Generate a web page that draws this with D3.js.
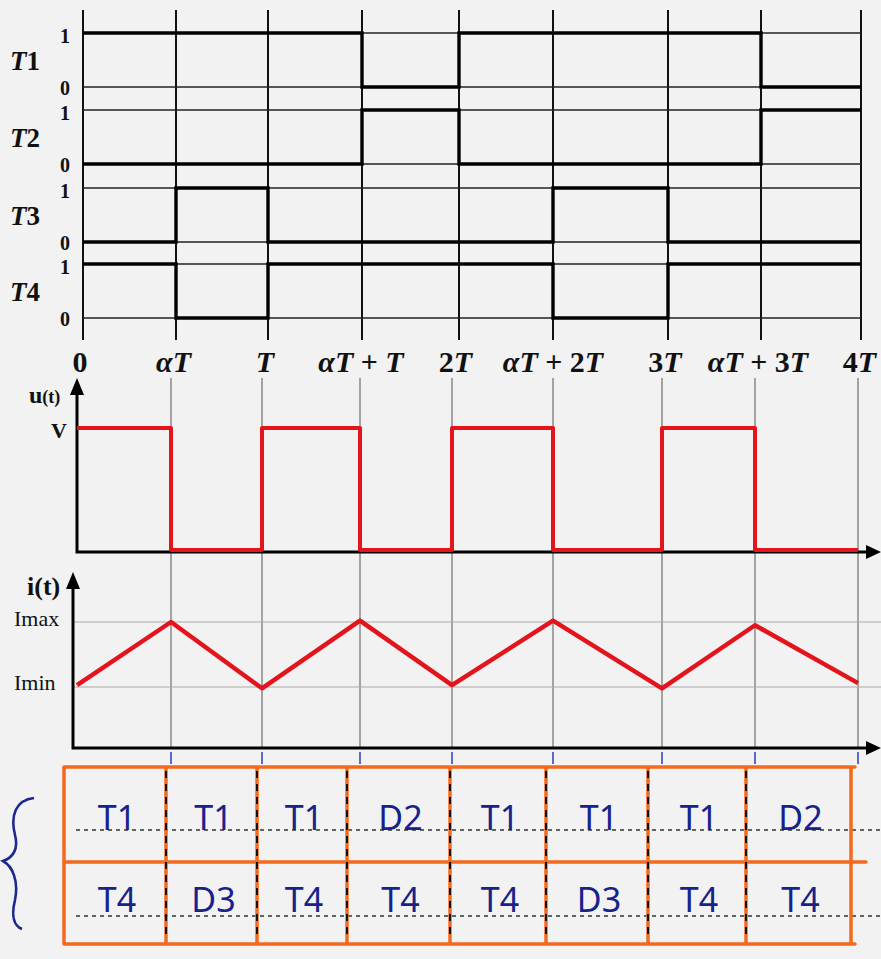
<!DOCTYPE html>
<html lang="en">
<head>
<meta charset="UTF-8">
<title>Chronogrammes du hacheur 4 quadrants</title>
<script src="https://d3js.org/d3.v7.min.js"></script>
<style>
  body { margin: 0; background: #f2f2f2; }
  svg { display: block; }
  .serif { font-family: "Liberation Serif", "DejaVu Serif", serif; font-weight: bold; fill: #111; }
  .serif.light { font-weight: normal; }
  .hand { font-family: "Noto Sans", "DejaVu Sans", sans-serif; fill: #17228a; }
</style>
</head>
<body>
<svg width="881" height="959"></svg>
<script>
// --- data ---
var alpha = 0.48;
var tickTimes = [0, alpha, 1, 1 + alpha, 2, 2 + alpha, 3, 3 + alpha, 4];
var tickLabels = ["0", "αT", "T", "αT + T", "2T", "αT + 2T", "3T", "αT + 3T", "4T"];

var switchNames = ["1", "2", "3", "4"];          // T1..T4
var t1 = [1, 1, 1, 0, 1, 1, 1, 0];               // level on each interval
var t2 = [0, 0, 0, 1, 0, 0, 0, 1];
var t3 = [0, 1, 0, 0, 0, 1, 0, 0];
var t4 = [1, 0, 1, 1, 1, 0, 1, 1];
var switchLevels = [t1, t2, t3, t4];

var uLevels = [1, 0, 1, 0, 1, 0, 1, 0];          // u(t): V or 0
var iValues = [0.03, 1, -0.02, 1.02, 0.03, 1.02, -0.02, 0.95, 0.06]; // i(t) at each tick, Imin=0 Imax=1

var row1Labels = ["T1", "T1", "T1", "D2", "T1", "T1", "T1", "D2"];
var row2Labels = ["T4", "D3", "T4", "T4", "T4", "D3", "T4", "T4"];

// --- layout ---
var svg = d3.select("svg");

var topX = d3.scaleLinear().domain(tickTimes).range([83, 176, 268, 362, 459, 553, 668, 761, 861]);
var lowX = d3.scaleLinear().domain(tickTimes).range([77, 171, 262, 360, 452, 553, 662, 755, 858]);
var tabX = d3.scaleLinear().domain(tickTimes).range([64, 166, 257, 347, 450, 546, 648, 746, 851]);

var rowTop = [33, 110, 188, 264], rowH = 54;

// step path helper: levels per interval -> points
function stepPoints(levels) {
  var pts = [];
  levels.forEach(function(v, i) {
    pts.push([tickTimes[i], v]);
    pts.push([tickTimes[i + 1], v]);
  });
  return pts;
}

// ===== top panel : T1..T4 =====
var gTop = svg.append("g");

gTop.selectAll(".vgrid")
  .data(tickTimes)
  .enter().append("line")
  .attr("x1", function(d) { return topX(d); })
  .attr("x2", function(d) { return topX(d); })
  .attr("y1", 10).attr("y2", 340)
  .attr("stroke", "#111").attr("stroke-width", 2);

switchLevels.forEach(function(levels, k) {
  var y = d3.scaleLinear().domain([0, 1]).range([rowTop[k] + rowH, rowTop[k]]);

  [0, 1].forEach(function(lv) {
    gTop.append("line")
      .attr("x1", topX(0)).attr("x2", topX(4))
      .attr("y1", y(lv)).attr("y2", y(lv))
      .attr("stroke", "#222").attr("stroke-width", 1.6);
    gTop.append("text")
      .attr("class", "serif")
      .attr("x", 60).attr("y", y(lv) + (lv ? 10 : 8))
      .attr("font-size", 20)
      .text(lv);
  });

  gTop.append("path")
    .datum(stepPoints(levels))
    .attr("fill", "none")
    .attr("stroke", "#000")
    .attr("stroke-width", 3.4)
    .attr("d", d3.line().x(function(d) { return topX(d[0]); }).y(function(d) { return y(d[1]); }));

  var lab = gTop.append("text")
    .attr("class", "serif")
    .attr("x", 10).attr("y", (y(0) + y(1)) / 2 + 10)
    .attr("font-size", 27);
  lab.append("tspan").attr("font-style", "italic").text("T");
  lab.append("tspan").text(switchNames[k]);
});

// tick labels with italic α and T
svg.append("g").selectAll("text")
  .data(tickTimes)
  .enter().append("text")
  .attr("class", "serif")
  .attr("x", function(d) { return (topX(d) + lowX(d)) / 2; })
  .attr("y", 372)
  .attr("text-anchor", "middle")
  .attr("font-size", 30)
  .each(function(d, i) {
    var t = d3.select(this);
    tickLabels[i].split("").forEach(function(ch) {
      var sp = t.append("tspan").text(ch === " " ? "\u00a0" : ch);
      if (ch === "α" || ch === "T") sp.attr("font-style", "italic");
    });
  });

// ===== lower panels =====
var uY = d3.scaleLinear().domain([0, 1]).range([550, 428]);
var iY = d3.scaleLinear().domain([0, 1]).range([687, 622]);

svg.append("g").selectAll("line")
  .data(tickTimes.slice(1))
  .enter().append("line")
  .attr("x1", function(d) { return lowX(d); })
  .attr("x2", function(d) { return lowX(d); })
  .attr("y1", 378).attr("y2", 748)
  .attr("stroke", "#555").attr("stroke-width", 1);

// i(t) horizontal guides
[0, 1].forEach(function(v) {
  svg.append("line")
    .attr("x1", 73).attr("x2", 881)
    .attr("y1", iY(v)).attr("y2", iY(v))
    .attr("stroke", "#aaa").attr("stroke-width", 1);
});

function arrowAxes(x0, yTop, yBase) {
  var g = svg.append("g");
  g.append("path")
    .attr("d", "M" + x0 + "," + (yTop + 12) + "V" + yBase + "H872")
    .attr("fill", "none").attr("stroke", "#000").attr("stroke-width", 3);
  g.append("path")
    .attr("d", "M" + x0 + "," + yTop + "l-7,17h14z").attr("fill", "#000");
  g.append("path")
    .attr("d", "M881," + yBase + "l-15,-7v14z").attr("fill", "#000");
}
arrowAxes(77, 378, 552);
arrowAxes(73, 572, 748);

// u(t) signal
svg.append("path")
  .datum(stepPoints(uLevels))
  .attr("fill", "none")
  .attr("stroke", "#e3141c")
  .attr("stroke-width", 4)
  .attr("stroke-linejoin", "round")
  .attr("d", d3.line().x(function(d) { return lowX(d[0]); }).y(function(d) { return uY(d[1]); }));

// i(t) signal
svg.append("path")
  .datum(iValues)
  .attr("fill", "none")
  .attr("stroke", "#e3141c")
  .attr("stroke-width", 4.5)
  .attr("stroke-linejoin", "round")
  .attr("d", d3.line().x(function(d, i) { return lowX(tickTimes[i]); }).y(function(d) { return iY(d); }));

// axis labels
var ul = svg.append("text").attr("class", "serif").attr("x", 29).attr("y", 403).attr("font-size", 24);
ul.append("tspan").text("u");
ul.append("tspan").attr("font-size", 18).text("(t)");
svg.append("text").attr("class", "serif").attr("x", 51).attr("y", 438).attr("font-size", 22).text("V");

svg.append("text").attr("class", "serif").attr("x", 27).attr("y", 595).attr("font-size", 26).text("i(t)");
svg.append("text").attr("class", "serif light").attr("x", 14).attr("y", 626)
  .attr("font-size", 22).text("Imax");
svg.append("text").attr("class", "serif light").attr("x", 14).attr("y", 690)
  .attr("font-size", 22).text("Imin");

// ===== hand-drawn table =====
var tab = svg.append("g");
var tTop = 767, tMid = 862, tBot = 944;
var orange = "#f26a1e";

// small blue marks under the time axis
tab.selectAll(".mark")
  .data(tickTimes.slice(1))
  .enter().append("line")
  .attr("x1", function(d) { return lowX(d); })
  .attr("x2", function(d) { return lowX(d); })
  .attr("y1", 752).attr("y2", 764)
  .attr("stroke", "#2a3bc0").attr("stroke-width", 1.5);

// dashed guide lines
[830, 916].forEach(function(y) {
  tab.append("line")
    .attr("x1", 76).attr("x2", 881).attr("y1", y).attr("y2", y)
    .attr("stroke", "#333").attr("stroke-width", 1.5).attr("stroke-dasharray", "4,4");
});

[tTop, tMid, tBot].forEach(function(y, i) {
  tab.append("line")
    .attr("x1", tabX(0)).attr("x2", i === 1 ? 866 : tabX(4) + 4)
    .attr("y1", y).attr("y2", y)
    .attr("stroke", orange).attr("stroke-width", 3.5).attr("stroke-linecap", "round");
});

tab.selectAll(".div")
  .data(tickTimes)
  .enter().append("line")
  .attr("x1", function(d) { return tabX(d); })
  .attr("x2", function(d) { return tabX(d); })
  .attr("y1", tTop).attr("y2", tBot)
  .attr("stroke", orange).attr("stroke-width", 3.5);

tab.selectAll(".dash")
  .data(tickTimes.slice(1, 8))
  .enter().append("line")
  .attr("x1", function(d) { return tabX(d); })
  .attr("x2", function(d) { return tabX(d); })
  .attr("y1", tTop + 4).attr("y2", tBot - 8)
  .attr("stroke", "#111").attr("stroke-width", 2).attr("stroke-dasharray", "7,6");

[row1Labels, row2Labels].forEach(function(labels, r) {
  tab.selectAll(".cell" + r)
    .data(labels)
    .enter().append("text")
    .attr("class", "hand")
    .attr("x", function(d, i) { return (tabX(tickTimes[i]) + tabX(tickTimes[i + 1])) / 2 + 2; })
    .attr("y", r === 0 ? 830 : 912)
    .attr("text-anchor", "middle")
    .attr("font-size", 34)
    .text(function(d) { return d; });
});

// curly brace on the left
tab.append("path")
  .attr("d", "M34,798 C16,800 10,815 15,835 C19,850 12,858 3,861 C12,866 19,880 15,900 C11,916 14,926 22,929")
  .attr("fill", "none").attr("stroke", "#1b2890").attr("stroke-width", 2.6);
</script>
</body>
</html>
